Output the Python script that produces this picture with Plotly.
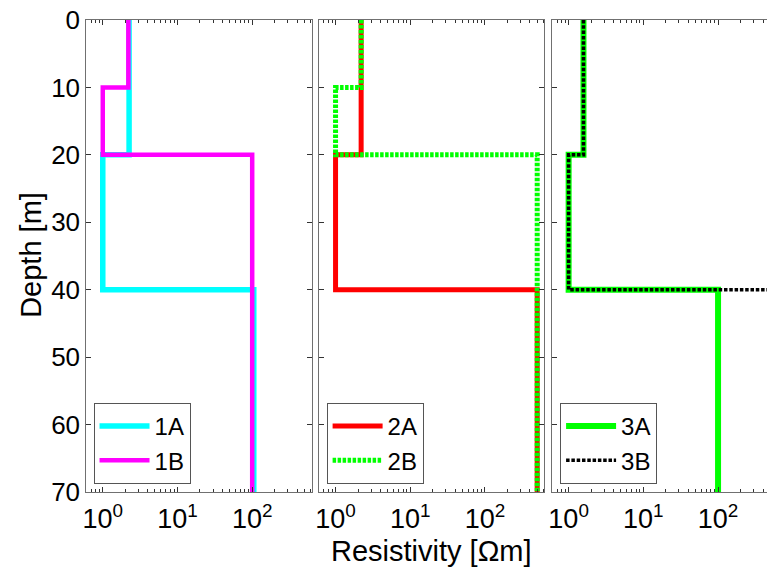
import plotly.graph_objects as go

# ---- data ----
depth_edges_1A = [0, 20, 40, 70]
res_1A = [2.25, 1.0, 105]
depth_edges_1B = [0, 10, 20, 70]
res_1B = [2.2, 1.0, 100]

depth_edges_2A = [0, 20, 40, 70]
res_2A = [2.2, 1.0, 500]
depth_edges_2B = [0, 10, 20, 70]
res_2B = [2.2, 1.0, 500]

depth_edges_3A = [0, 20, 40, 70]
res_3A = [1.58, 1.0, 100]
depth_edges_3B = [0, 20, 40, 70]
res_3B = [1.58, 1.0, 500]

x_tick_vals = [1, 10, 100]
x_tick_text = ["10<sup>0</sup>", "10<sup>1</sup>", "10<sup>2</sup>"]
y_tick_vals = [0, 10, 20, 30, 40, 50, 60, 70]


def step(edges, vals):
    xs, ys = [], []
    for i, v in enumerate(vals):
        xs += [v, v]
        ys += [edges[i], edges[i + 1]]
    return xs, ys


FONT = "Liberation Sans, Arial, sans-serif"
W, H = 767, 567

fig = go.Figure()

series = [
    ("1A", depth_edges_1A, res_1A, "#00FFFF", 5.5, "solid", 1, "legend"),
    ("1B", depth_edges_1B, res_1B, "#FF00FF", 4.5, "solid", 1, "legend"),
    ("2A", depth_edges_2A, res_2A, "#FF0000", 5, "solid", 2, "legend2"),
    ("2B", depth_edges_2B, res_2B, "#00FF00", 5, "3.5px,1.5px", 2, "legend2"),
    ("3A", depth_edges_3A, res_3A, "#00FF00", 6, "solid", 3, "legend3"),
    ("3B", depth_edges_3B, res_3B, "#000000", 3.5, "3.5px,1.8px", 3, "legend3"),
]

for name, edges, vals, color, width, dash, panel, leg in series:
    xs, ys = step(edges, vals)
    fig.add_trace(go.Scatter(
        x=xs, y=ys, mode="lines", name=name,
        line=dict(color=color, width=width, dash=dash),
        xaxis="x" if panel == 1 else f"x{panel}",
        yaxis="y" if panel == 1 else f"y{panel}",
        legend=leg,
    ))

# layout geometry (pixels -> paper)
ppd = 75.1  # pixels per decade
lefts = [82.7, 316.7, 551.0]
rights = [309.3, 543.3, 767.0]
lo = -0.221

minor_vals = [m * 10 ** e for e in (-1, 0, 1, 2) for m in range(2, 10)]

axis_line = "#707070"
tick_col = "#333333"

layout = dict(
    width=W, height=H, autosize=False,
    margin=dict(l=0, r=0, t=20, b=75),
    paper_bgcolor="white", plot_bgcolor="white",
    font=dict(family=FONT, size=26, color="black"),
    showlegend=True,
)

for i in range(3):
    k = "" if i == 0 else str(i + 1)
    hi = lo + (rights[i] - lefts[i]) / ppd
    layout[f"xaxis{k}"] = dict(
        type="log", range=[lo, hi],
        domain=[lefts[i] / W, rights[i] / W],
        anchor=f"y{k}",
        tickvals=x_tick_vals, ticktext=x_tick_text,
        ticks="inside", ticklen=5, tickcolor=tick_col, tickwidth=1,
        minor=dict(tickvals=minor_vals, ticks="inside", ticklen=3,
                   tickcolor=tick_col, tickwidth=1),
        showline=True, linecolor=axis_line, linewidth=1,
        mirror="ticks", showgrid=False, zeroline=False,
        ticklabelstandoff=3,
        tickfont=dict(size=27, family=FONT, color="black"),
    )
    layout[f"yaxis{k}"] = dict(
        range=[70, 0], anchor=f"x{k}",
        tickvals=y_tick_vals,
        ticks="inside", ticklen=5, tickcolor=tick_col, tickwidth=1,
        showline=True, linecolor=axis_line, linewidth=1,
        mirror="ticks" if i < 2 else False,
        showgrid=False, zeroline=False,
        showticklabels=(i == 0),
        tickfont=dict(size=26, family=FONT, color="black"),
    )

plot_top, plot_bot = 20, H - 75
ph = plot_bot - plot_top
leg_lefts = [90, 324.3, 559]
for i, lx in enumerate(leg_lefts):
    k = "legend" if i == 0 else f"legend{i + 1}"
    layout[k] = dict(
        x=lx / W, y=(plot_bot - 484) / ph,
        xanchor="left", yanchor="bottom",
        bgcolor="white", bordercolor="#555555", borderwidth=1,
        font=dict(size=24, family=FONT, color="black"),
        itemwidth=50, tracegroupgap=0,
    )

layout["annotations"] = [
    dict(text="Resistivity [Ωm]", x=430 / W, xref="paper", yref="paper",
         y=(plot_bot - 551) / ph, yanchor="middle",
         showarrow=False, font=dict(size=29, family=FONT)),
    dict(text="Depth [m]", x=27 / W, xref="paper", yref="paper",
         y=(plot_bot - 255) / ph, yanchor="middle", xanchor="center",
         showarrow=False, textangle=-90, font=dict(size=29, family=FONT)),
]

fig.update_layout(**layout)
fig.write_html("out.html")
